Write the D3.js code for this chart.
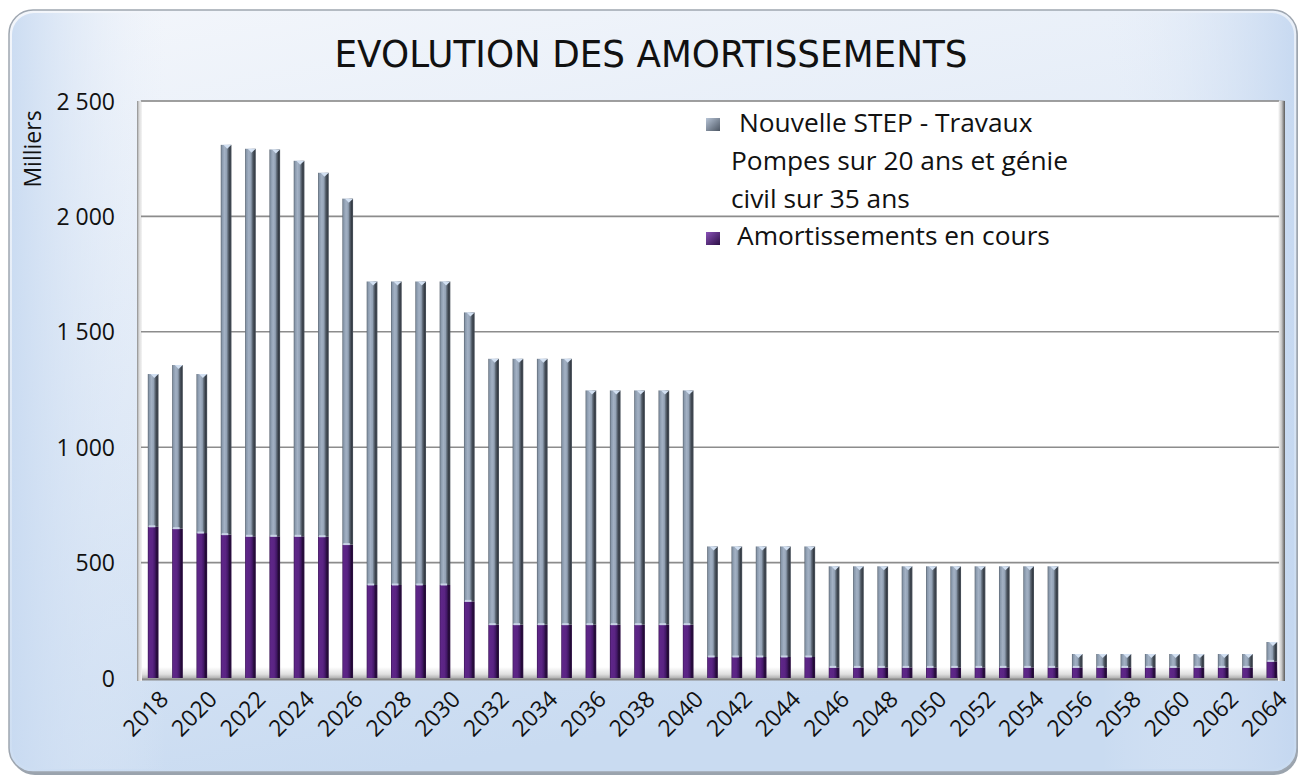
<!DOCTYPE html>
<html>
<head>
<meta charset="utf-8">
<script src="https://cdn.jsdelivr.net/npm/d3@7"></script>
<style>
  html, body { margin: 0; padding: 0; background: #ffffff; }
  svg { display: block; }
</style>
</head>
<body>
<svg id="chart" width="1301" height="780"></svg>
<script>
// ---------- DATA ----------
const years = [2018,2019,2020,2021,2022,2023,2024,2025,2026,2027,2028,2029,2030,2031,2032,2033,2034,2035,2036,2037,2038,2039,2040,2041,2042,2043,2044,2045,2046,2047,2048,2049,2050,2051,2052,2053,2054,2055,2056,2057,2058,2059,2060,2061,2062,2063,2064];
const amortissementsEnCours = [655,647,628,621,614,614,614,612,578,403,403,403,403,332,231,231,231,231,231,231,231,231,231,91,91,91,91,91,46,46,46,46,46,46,46,46,46,46,46,46,46,46,46,46,46,46,72];
const nouvelleStep = [662,709,689,1689,1679,1676,1627,1577,1499,1315,1315,1315,1315,1252,1152,1152,1152,1152,1015,1015,1015,1015,1015,479,479,479,479,479,438,438,438,438,438,438,438,438,438,438,58,58,58,58,58,58,58,58,84];
const yTicks = [0,500,1000,1500,2000,2500];
const yTickLabels = ["0","500","1 000","1 500","2 000","2 500"];
const xTickYears = [2018,2020,2022,2024,2026,2028,2030,2032,2034,2036,2038,2040,2042,2044,2046,2048,2050,2052,2054,2056,2058,2060,2062,2064];
const seriesNames = ["Nouvelle STEP - Travaux", "Pompes sur 20 ans et génie", "civil sur 35 ans", "Amortissements en cours"];
const titleText = "EVOLUTION DES AMORTISSEMENTS";
const yAxisTitle = "Milliers";

// ---------- LAYOUT ----------
const W = 1301, H = 780;
const plot = {left: 141, right: 1284, top: 101, bottom: 678};
const svg = d3.select("#chart");
const defs = svg.append("defs");

// gradients
const bg = defs.append("linearGradient").attr("id","bgGrad").attr("x1",0).attr("y1",0).attr("x2",0.3).attr("y2",1);
bg.append("stop").attr("offset","0%").attr("stop-color","#f3f6fb");
bg.append("stop").attr("offset","45%").attr("stop-color","#e2ebf7");
bg.append("stop").attr("offset","100%").attr("stop-color","#c9dbf1");

const bgSide = defs.append("linearGradient").attr("id","bgSide").attr("x1",0).attr("y1",0).attr("x2",1).attr("y2",0);
bgSide.append("stop").attr("offset","0%").attr("stop-color","#c8daf1").attr("stop-opacity",0.9);
bgSide.append("stop").attr("offset","12%").attr("stop-color","#e8eff9").attr("stop-opacity",0);
bgSide.append("stop").attr("offset","85%").attr("stop-color","#e8eff9").attr("stop-opacity",0);
bgSide.append("stop").attr("offset","100%").attr("stop-color","#c4d7f0").attr("stop-opacity",0.9);

const grayG = defs.append("linearGradient").attr("id","grayBar").attr("x1",0).attr("y1",0).attr("x2",1).attr("y2",0);
[["0%","#5a6470"],["12%","#8898ab"],["35%","#a3b1c4"],["55%","#93a2b5"],["68%","#606b78"],["85%","#363d46"],["100%","#4c545e"]]
  .forEach(s => grayG.append("stop").attr("offset",s[0]).attr("stop-color",s[1]));

const purpG = defs.append("linearGradient").attr("id","purpBar").attr("x1",0).attr("y1",0).attr("x2",1).attr("y2",0);
[["0%","#3b1656"],["12%","#5e2688"],["45%","#5a2483"],["65%","#45196a"],["85%","#220a35"],["100%","#2f1046"]]
  .forEach(s => purpG.append("stop").attr("offset",s[0]).attr("stop-color",s[1]));

const floorG = defs.append("linearGradient").attr("id","floorGrad").attr("x1",0).attr("y1",0).attr("x2",0).attr("y2",1);
floorG.append("stop").attr("offset","0%").attr("stop-color","#ffffff");
floorG.append("stop").attr("offset","60%").attr("stop-color","#e0e0e0");
floorG.append("stop").attr("offset","100%").attr("stop-color","#a8a8a8");

const wallG = defs.append("linearGradient").attr("id","wallGrad").attr("x1",0).attr("y1",0).attr("x2",1).attr("y2",0);
wallG.append("stop").attr("offset","0%").attr("stop-color","#8a8a8a");
wallG.append("stop").attr("offset","40%").attr("stop-color","#d8d8d8");
wallG.append("stop").attr("offset","100%").attr("stop-color","#f4f4f4");

const rightG = defs.append("linearGradient").attr("id","rightGrad").attr("x1",0).attr("y1",0).attr("x2",1).attr("y2",0);
rightG.append("stop").attr("offset","0%").attr("stop-color","#ffffff");
rightG.append("stop").attr("offset","50%").attr("stop-color","#c8c8c8");
rightG.append("stop").attr("offset","100%").attr("stop-color","#5a5a5a");

const legGray = defs.append("linearGradient").attr("id","legGray").attr("x1",0).attr("y1",0).attr("x2",1).attr("y2",1);
legGray.append("stop").attr("offset","0%").attr("stop-color","#b7c4d6");
legGray.append("stop").attr("offset","100%").attr("stop-color","#4c5663");
const legPurp = defs.append("linearGradient").attr("id","legPurp").attr("x1",0).attr("y1",0).attr("x2",1).attr("y2",1);
legPurp.append("stop").attr("offset","0%").attr("stop-color","#8a52b8");
legPurp.append("stop").attr("offset","100%").attr("stop-color","#2c0f45");

// ---------- FRAME ----------
svg.append("rect").attr("x",11).attr("y",12).attr("width",1287).attr("height",763)
  .attr("rx",24).attr("fill","#9aa3ad");
svg.append("rect").attr("x",9).attr("y",10).attr("width",1288).attr("height",762)
  .attr("rx",24).attr("fill","url(#bgGrad)").attr("stroke","#9ea6b0").attr("stroke-width",1.5);
svg.append("rect").attr("x",12).attr("y",13).attr("width",1282).attr("height",756)
  .attr("rx",22).attr("fill","url(#bgSide)");

// title
svg.append("text").attr("x",651).attr("y",67).attr("text-anchor","middle")
  .attr("font-family","'DejaVu Sans', sans-serif").attr("font-size",37)
  .attr("textLength",633).attr("lengthAdjust","spacingAndGlyphs").attr("fill","#111")
  .text(titleText);

// ---------- SCALES ----------
const x = d3.scaleBand().domain(years).range([plot.left, plot.right]).paddingInner(0.56).paddingOuter(0.28);
const y = d3.scaleLinear().domain([0,2500]).range([plot.bottom, plot.top]);

// plot background
svg.append("rect").attr("x",plot.left).attr("y",plot.top).attr("width",plot.right-plot.left).attr("height",plot.bottom-plot.top)
  .attr("fill","#ffffff").attr("stroke","#b0b0b0").attr("stroke-width",1);
// floor
svg.append("rect").attr("x",plot.left).attr("y",plot.bottom-11).attr("width",plot.right-plot.left).attr("height",12)
  .attr("fill","url(#floorGrad)");
svg.append("line").attr("x1",plot.left-3).attr("x2",plot.right).attr("y1",plot.bottom+1.5).attr("y2",plot.bottom+1.5)
  .attr("stroke","#8a8a8a").attr("stroke-width",2);
// left wall
svg.append("rect").attr("x",plot.left-4).attr("y",plot.top).attr("width",5).attr("height",plot.bottom-plot.top+3)
  .attr("fill","url(#wallGrad)");
// right shadow
svg.append("rect").attr("x",plot.right-6).attr("y",plot.top).attr("width",7).attr("height",plot.bottom-plot.top+3)
  .attr("fill","url(#rightGrad)");

// gridlines
svg.append("g").selectAll("line").data(yTicks.slice(1)).join("line")
  .attr("x1",plot.left).attr("x2",plot.right-5)
  .attr("y1",d=>y(d)).attr("y2",d=>y(d))
  .attr("stroke","#8c8c8c").attr("stroke-width",1.6);

// y axis
const yAxis = d3.axisLeft(y).tickValues(yTicks).tickFormat((d,i)=>yTickLabels[i]).tickSize(0).tickPadding(26);
const yg = svg.append("g").attr("transform",`translate(${plot.left},0)`).call(yAxis);
yg.select(".domain").remove();
yg.selectAll("text").attr("font-family","'Open Sans', sans-serif").attr("font-size",23).attr("fill","#111").attr("dy","0.35em");

svg.append("text").attr("transform","translate(33,149) rotate(-90)").attr("text-anchor","middle").attr("dy","0.35em")
  .attr("font-family","'Open Sans', sans-serif").attr("font-size",23).attr("fill","#111").text(yAxisTitle);

// ---------- BARS ----------
const data = years.map((yr,i)=>({year:yr, a:amortissementsEnCours[i], n:nouvelleStep[i]}));
const bw = x.bandwidth();
const bars = svg.append("g");
bars.selectAll("rect.p").data(data).join("rect").attr("class","p")
  .attr("x",d=>x(d.year)).attr("width",bw)
  .attr("y",d=>y(d.a)).attr("height",d=>y(0)-y(d.a))
  .attr("fill","url(#purpBar)");
bars.selectAll("rect.g").data(data).join("rect").attr("class","g")
  .attr("x",d=>x(d.year)).attr("width",bw)
  .attr("y",d=>y(d.a+d.n)).attr("height",d=>y(d.a)-y(d.a+d.n))
  .attr("fill","url(#grayBar)");
bars.selectAll("rect.j").data(data).join("rect").attr("class","j")
  .attr("x",d=>x(d.year)+1).attr("width",bw*0.6)
  .attr("y",d=>y(d.a)-1.5).attr("height",2)
  .attr("fill","#c9d3e6");
bars.selectAll("path.c").data(data).join("path").attr("class","c")
  .attr("d",d=>{const x0=x(d.year), yt=y(d.a+d.n); return `M${x0+bw*0.25},${yt} L${x0+bw},${yt} L${x0+bw*0.6},${yt+4} Z`;})
  .attr("fill","#d2e0f2");

// ---------- X AXIS LABELS ----------
svg.append("g").selectAll("text").data(xTickYears).join("text")
  .attr("transform",d=>`translate(${x(d)+bw/2+11},${plot.bottom+17}) rotate(-45)`)
  .attr("text-anchor","end").attr("dy","0.35em")
  .attr("font-family","'Open Sans', sans-serif").attr("font-size",23).attr("fill","#111")
  .text(d=>d);

// ---------- LEGEND ----------
const leg = svg.append("g").attr("font-family","'Open Sans', sans-serif").attr("font-size",26.3).attr("fill","#111");
leg.append("rect").attr("x",706).attr("y",118).attr("width",14).attr("height",13).attr("fill","url(#legGray)");
leg.append("text").attr("x",739).attr("y",132).text(seriesNames[0]);
leg.append("text").attr("x",731).attr("y",170).text(seriesNames[1]);
leg.append("text").attr("x",731).attr("y",208).text(seriesNames[2]);
leg.append("rect").attr("x",706).attr("y",232).attr("width",14).attr("height",13).attr("fill","url(#legPurp)");
leg.append("text").attr("x",737).attr("y",245).text(seriesNames[3]);
</script>
</body>
</html>
